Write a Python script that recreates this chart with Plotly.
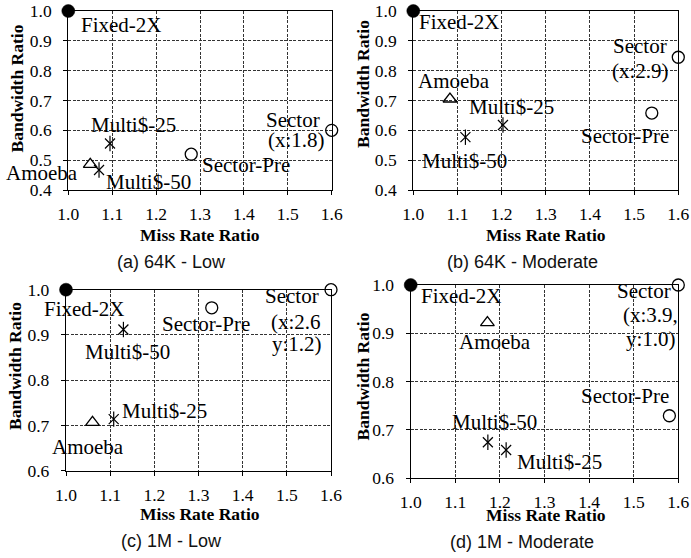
import plotly.graph_objects as go

# ---------------- data ----------------
series = ["Fixed-2X", "Amoeba", "Multi$-25", "Multi$-50", "Sector-Pre", "Sector"]
x_ticks = [1.0, 1.1, 1.2, 1.3, 1.4, 1.5, 1.6]
y_ticks_top = [0.4, 0.5, 0.6, 0.7, 0.8, 0.9, 1.0]
y_ticks_bottom = [0.6, 0.7, 0.8, 0.9, 1.0]

# (a) 64K - Low
miss_a = [1.0, 1.05, 1.095, 1.07, 1.28, 1.6]
bw_a = [1.0, 0.486, 0.556, 0.467, 0.52, 0.6]
# (b) 64K - Moderate
miss_b = [1.0, 1.083, 1.203, 1.118, 1.54, 1.6]
bw_b = [1.0, 0.705, 0.618, 0.577, 0.658, 0.845]
# (c) 1M - Low
miss_c = [1.0, 1.06, 1.108, 1.13, 1.33, 1.6]
bw_c = [1.0, 0.707, 0.714, 0.912, 0.96, 1.0]
# (d) 1M - Moderate
miss_d = [1.0, 1.172, 1.214, 1.173, 1.58, 1.6]
bw_d = [1.0, 0.922, 0.658, 0.674, 0.729, 1.0]

sector_note_a = ["Sector", "(x:1.8)"]
sector_note_b = ["Sector", "(x:2.9)"]
sector_note_c = ["Sector", "(x:2.6", "y:1.2)"]
sector_note_d = ["Sector", "(x:3.9,", "y:1.0)"]

captions = ["(a) 64K - Low", "(b) 64K - Moderate", "(c) 1M - Low", "(d) 1M - Moderate"]
x_title = "Miss Rate Ratio"
y_title = "Bandwidth Ratio"

# ---------------- layout / style ----------------
W, H = 691, 558
SERIF = "Liberation Serif"
SANS = "Liberation Sans"

# plot areas in pixels: (left, right, top, bottom)
areas = [(68.3, 331.7, 11, 190), (413.3, 678.3, 11, 190),
         (66, 331, 289.7, 470.7), (410.7, 678.3, 285, 478)]

# label pixel offsets (dx, dy; dy positive downward) per series, per panel
offsets = [
    [[(52.7, 14)], [(-47.8, 9)], [(23.5, -18.5)], [(49.5, 12)], [(54.8, 10.8)],
     [(-39, -10), (-35.5, 10)]],
    [[(46.7, 11)], [(4, -18)], [(9, -18.3)], [(-1, 24)], [(-27.3, 22.7)],
     [(-38.8, -11), (-38.3, 14)]],
    [[(18.5, 19.3)], [(-5, 25)], [(50.8, -8.4)], [(3.6, 22)], [(-6, 16)],
     [(-39, 6.3), (-35, 32), (-34, 54.3)]],
    [[(50.8, 10.7)], [(7.6, 19)], [(52.9, 11.7)], [(6.6, -20.6)], [(-44.4, -20)],
     [(-34.8, 5.7), (-28.3, 30), (-27.3, 54)]],
]

xt_pos = [(200, 235), (546, 235), (199.5, 514), (545.5, 515)]
yt_pos = [(17, 88.5), (363, 84), (15, 366), (362, 376.5)]
cap_pos = [(171, 262), (522, 262), (171, 541), (522, 542)]

panels = [
    (miss_a, bw_a, sector_note_a, y_ticks_top),
    (miss_b, bw_b, sector_note_b, y_ticks_top),
    (miss_c, bw_c, sector_note_c, y_ticks_bottom),
    (miss_d, bw_d, sector_note_d, y_ticks_bottom),
]

fig = go.Figure()
annotations = []
layout_axes = {}

for i, (mx, by, note, yt) in enumerate(panels):
    k = "" if i == 0 else str(i + 1)
    xa, ya = "x" + k, "y" + k
    L, R, T, B = areas[i]
    common = dict(
        showline=True, linecolor="black", linewidth=1.3, mirror=True,
        ticks="outside", ticklen=4, tickcolor="black", tickwidth=1,
        showgrid=True, gridcolor="#333", gridwidth=1, griddash="3px,1.5px",
        zeroline=False, tickformat=".1f", automargin=False,
        ticklabeloverflow="allow",
        tickfont=dict(family=SERIF, size=17.5, color="black"),
    )
    layout_axes["xaxis" + k] = dict(
        common, domain=[L / W, R / W], anchor=ya, range=[1.0, 1.6],
        tickvals=x_ticks, ticklabelstandoff=4,
    )
    layout_axes["yaxis" + k] = dict(
        common, domain=[1 - B / H, 1 - T / H], anchor=xa, range=[yt[0], yt[-1]],
        tickvals=yt, ticklabelstandoff=8,
    )

    # markers
    def add(idx, symbol, size, lw=1.3):
        fig.add_trace(go.Scatter(
            x=[mx[idx]], y=[by[idx]], xaxis=xa, yaxis=ya, mode="markers",
            cliponaxis=False, showlegend=False, hoverinfo="skip",
            marker=dict(symbol=symbol, size=size, color="black",
                        line=dict(color="black", width=lw)),
        ))

    add(0, "circle", 13, lw=0.5)
    add(1, "triangle-up-open", 12)
    for idx in (2, 3):
        add(idx, "x-thin-open", 10, lw=1.2)
        add(idx, "line-ns-open", 11, lw=1.2)
    add(4, "circle-open", 12)
    add(5, "circle-open", 12)

    # point labels
    texts = [[series[0]], [series[1]], [series[2]], [series[3]], [series[4]], note]
    for idx in range(6):
        for line, (dx, dy) in zip(texts[idx], offsets[i][idx]):
            annotations.append(dict(
                x=mx[idx], y=by[idx], xref=xa, yref=ya, text=line,
                showarrow=False, xanchor="center", yanchor="middle",
                xshift=dx, yshift=-dy,
                font=dict(family=SERIF, size=21, color="black"),
            ))

    # axis titles and captions
    px, py = xt_pos[i]
    annotations.append(dict(
        x=px / W, y=1 - py / H, xref="paper", yref="paper",
        text="<b>" + x_title + "</b>", showarrow=False,
        xanchor="center", yanchor="middle",
        font=dict(family=SERIF, size=17.5, color="black"),
    ))
    px, py = yt_pos[i]
    annotations.append(dict(
        x=px / W, y=1 - py / H, xref="paper", yref="paper",
        text="<b>" + y_title + "</b>", showarrow=False, textangle=-90,
        xanchor="center", yanchor="middle",
        font=dict(family=SERIF, size=17.5, color="black"),
    ))
    px, py = cap_pos[i]
    annotations.append(dict(
        x=px / W, y=1 - py / H, xref="paper", yref="paper",
        text=captions[i], showarrow=False,
        xanchor="center", yanchor="middle",
        font=dict(family=SANS, size=18, color="#111"),
    ))

fig.update_layout(
    width=W, height=H, margin=dict(l=0, r=0, t=0, b=0),
    paper_bgcolor="white", plot_bgcolor="white",
    annotations=annotations, showlegend=False,
    **layout_axes,
)

fig.write_html(
    "out.html",
    config={"displayModeBar": False},
    post_script="document.body.style.margin='0';document.body.style.overflow='hidden';",
)
